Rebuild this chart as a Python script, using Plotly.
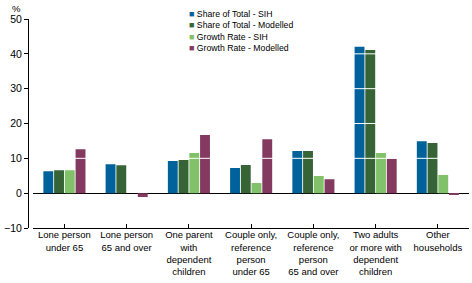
import plotly.graph_objects as go

# Household types (x categories)
categories = [
    "Lone person<br>under 65",
    "Lone person<br>65 and over",
    "One parent<br>with<br>dependent<br>children",
    "Couple only,<br>reference<br>person<br>under 65",
    "Couple only,<br>reference<br>person<br>65 and over",
    "Two adults<br>or more with<br>dependent<br>children",
    "Other<br>households",
]

# Series values (%)
share_sih = [6.3, 8.3, 9.2, 7.2, 12.1, 42.0, 14.9]
share_modelled = [6.6, 8.0, 9.5, 8.1, 12.1, 41.1, 14.4]
growth_sih = [6.6, 0.0, 11.5, 2.9, 4.9, 11.5, 5.2]
growth_modelled = [12.6, -1.1, 16.7, 15.5, 4.0, 9.9, -0.5]

series_names = ["Share of Total - SIH", "Share of Total - Modelled",
                "Growth Rate - SIH", "Growth Rate - Modelled"]
series_values = [share_sih, share_modelled, growth_sih, growth_modelled]
colors = ["#00629B", "#366436", "#81C16A", "#833960"]

y_ticks = [-10, 0, 10, 20, 30, 40, 50]

font = "Liberation Sans, Arial, sans-serif"

fig = go.Figure()
for name, vals, col in zip(series_names, series_values, colors):
    fig.add_trace(go.Bar(x=categories, y=vals, name=name, marker_color=col,
                         marker_line_width=0, showlegend=False))

# white gridlines drawn on top of the bars
for t in y_ticks:
    if 0 < t < 50:
        fig.add_shape(type="line", xref="x domain", yref="y", x0=0, x1=1, y0=t, y1=t,
                      line=dict(color="white", width=1), layer="above")

# compact legend as one block of text
legend_lines = ["<span style='color:%s;font-size:9px'>■</span> %s" % (c, n)
                for n, c in zip(series_names, colors)]
fig.add_annotation(xref="paper", yref="paper", x=0.361, y=1.057,
                   xanchor="left", yanchor="top", align="left", showarrow=False,
                   text="<br>".join(legend_lines),
                   font=dict(family=font, size=8.7, color="black"))

fig.add_annotation(xref="paper", yref="paper", x=-0.04, y=1.085, xanchor="left",
                   yanchor="top", showarrow=False, text="%",
                   font=dict(family=font, size=9.5, color="black"))

fig.update_layout(
    width=472, height=283,
    margin=dict(l=28, r=3, t=19, b=55, autoexpand=False),
    paper_bgcolor="white", plot_bgcolor="white",
    barmode="group", bargap=0.31, bargroupgap=0.08,
    font=dict(family=font, size=10, color="black"),
    xaxis=dict(domain=[0.012, 1], showline=True, linecolor="black", linewidth=1,
               ticks="inside", ticklen=4, tickcolor="black", showgrid=False,
               automargin=False,
               tickfont=dict(size=9.5), ticklabelstandoff=-2, range=[-0.5, 6.5]),
    yaxis=dict(anchor="free", position=0, range=[-10, 50], tickvals=y_ticks,
               showline=True, linecolor="black", linewidth=1, automargin=False,
               ticks="outside", ticklen=4, tickcolor="black", showgrid=False,
               zeroline=True, zerolinecolor="black", zerolinewidth=1,
               tickfont=dict(size=10.5)),
)

# drop the page's default body margin so the figure sits at the window's corner
fig.write_html("out.html", config={"displayModeBar": False},
               post_script="document.body.style.margin='0';")
